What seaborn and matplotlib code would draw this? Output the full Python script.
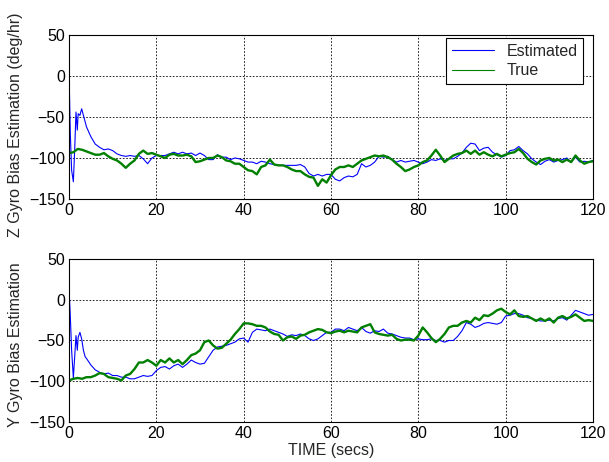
import matplotlib
matplotlib.use('Agg')
import matplotlib.pyplot as plt
import seaborn as sns
import pandas as pd

# start-up transient of the estimator (secs)
t_start = [0, 0.1, 0.3, 0.6, 1.0, 1.3, 1.6, 1.9, 2.1, 2.5, 2.9, 3.3, 3.7]
t_est = list(range(4, 121))
t_true = list(range(0, 121))

z_est_start = [21, -19, -70, -115, -129, -90, -44, -66, -46, -48, -40, -48, -56]
z_est = [-62, -74, -83, -87, -90, -89,
         -91, -95, -97, -98, -97, -98, -97, -101, -107, -100,
         -97, -97, -97, -95, -93, -95, -93, -95, -94, -97,
         -94, -97, -102, -102, -96, -99, -99, -102, -100, -101,
         -103, -105, -105, -107, -104, -105, -107, -108, -109, -109,
         -109, -109, -109, -108, -111, -119, -122, -120, -122, -120,
         -120, -126, -128, -124, -122, -123, -120, -107, -111, -109,
         -105, -98, -99, -98, -102, -105, -103, -105, -104, -103,
         -105, -107, -105, -102, -103, -101, -103, -101, -101, -98,
         -94, -87, -82, -83, -91, -88, -87, -93, -96, -99,
         -97, -91, -90, -86, -91, -95, -101, -105, -108, -104,
         -102, -105, -103, -102, -100, -105, -99, -105, -104, -105, -103]
z_true = [-94, -93, -89, -90, -92, -94, -96, -96, -94, -98,
          -101, -103, -107, -112, -107, -103, -95, -91, -95, -94,
          -96, -98, -100, -96, -95, -97, -97, -96, -98, -105,
          -104, -102, -100, -100, -97, -99, -103, -104, -107, -107,
          -111, -115, -116, -120, -111, -109, -102, -108, -109, -109,
          -111, -114, -116, -116, -120, -123, -124, -134, -126, -130,
          -121, -114, -111, -111, -109, -111, -107, -103, -101, -99,
          -97, -98, -97, -99, -102, -107, -111, -116, -114, -111,
          -109, -105, -103, -97, -90, -97, -105, -101, -97, -95,
          -94, -91, -95, -91, -96, -93, -96, -98, -95, -98,
          -96, -94, -93, -89, -94, -101, -105, -108, -103, -101,
          -100, -103, -102, -105, -102, -105, -97, -103, -107, -105, -104]

y_est_start = [32, 3, -20, -62, -96, -70, -44, -62, -46, -40, -48, -62, -70]
y_est = [-72, -80, -86, -89, -91, -90,
         -93, -93, -95, -95, -97, -97, -95, -93, -94, -93,
         -87, -83, -82, -85, -81, -79, -83, -79, -74, -77,
         -79, -78, -70, -62, -58, -57, -56, -54, -52, -48,
         -47, -52, -40, -36, -37, -38, -36, -38, -40, -42,
         -45, -43, -44, -42, -44, -48, -50, -48, -44, -40,
         -40, -36, -36, -38, -34, -36, -38, -34, -39, -41,
         -38, -39, -36, -41, -42, -44, -46, -47, -47, -49,
         -48, -49, -49, -48, -50, -50, -52, -50, -50, -45,
         -38, -28, -30, -34, -32, -29, -28, -29, -30, -28,
         -20, -19, -17, -17, -19, -22, -23, -25, -26, -26,
         -25, -26, -23, -22, -25, -19, -13, -15, -17, -19, -18]
y_true = [-99, -97, -96, -97, -95, -95, -93, -90, -91, -95,
          -96, -97, -99, -93, -91, -85, -77, -77, -74, -77,
          -81, -74, -77, -72, -77, -74, -79, -74, -68, -66,
          -62, -52, -50, -56, -60, -59, -54, -49, -42, -36,
          -29, -29, -30, -32, -32, -34, -39, -42, -43, -50,
          -46, -45, -48, -44, -43, -40, -38, -36, -37, -40,
          -41, -39, -38, -40, -38, -39, -40, -34, -32, -30,
          -40, -42, -43, -44, -43, -48, -50, -49, -49, -50,
          -44, -34, -40, -47, -52, -48, -42, -34, -32, -32,
          -28, -26, -28, -22, -25, -19, -20, -17, -13, -11,
          -15, -18, -13, -20, -21, -20, -23, -26, -23, -26,
          -23, -28, -22, -20, -23, -21, -18, -22, -26, -25, -26]

FS = 11.5

sns.set_style('white')
plt.rcParams['font.family'] = ['Liberation Sans', 'DejaVu Sans']
plt.rcParams['font.size'] = FS

fig = plt.figure(figsize=(6.09, 4.62), dpi=100)
ax1 = fig.add_axes([0.1133, 0.5693, 0.8604, 0.3550])
ax2 = fig.add_axes([0.1133, 0.0866, 0.8604, 0.3528])

panels = [
    (ax1, z_est_start, z_est, z_true, 'Z Gyro Bias Estimation (deg/hr)'),
    (ax2, y_est_start, y_est, y_true, 'Y Gyro Bias Estimation'),
]

for ax, est0, est, true, lab in panels:
    est_df = pd.DataFrame({'t': t_start + t_est, 'v': est0 + est})
    true_df = pd.DataFrame({'t': t_true, 'v': true})
    sns.lineplot(data=est_df, x='t', y='v', ax=ax, color='#0000FF', lw=0.8,
                 estimator=None, sort=False, label='Estimated')
    sns.lineplot(data=true_df, x='t', y='v', ax=ax, color='#008000', lw=1.7,
                 estimator=None, sort=False, label='True')
    ax.set_xlim(0, 120)
    ax.set_ylim(-150, 50)
    ax.set_xticks(range(0, 121, 20))
    ax.set_yticks(range(-150, 51, 50))
    ax.grid(True, color='black', linestyle=(0, (2, 2)), lw=0.6)
    ax.tick_params(direction='in', length=3, labelsize=FS, colors='black', pad=3)
    for s in ax.spines.values():
        s.set_color('black')
        s.set_linewidth(0.8)
    ax.set_ylabel(lab, fontsize=FS)
    ax.set_xlabel('')

ax1.yaxis.set_label_coords(-0.088, 0.45)
ax2.yaxis.set_label_coords(-0.088, 0.475)
ax2.set_xlabel('TIME (secs)', fontsize=FS, labelpad=1)

leg = ax1.legend(loc='upper right', bbox_to_anchor=(0.981, 0.982),
                 fancybox=False, edgecolor='black', framealpha=1, fontsize=FS,
                 handlelength=2.6, borderaxespad=0, borderpad=0.35,
                 labelspacing=0.3)
leg.get_frame().set_linewidth(0.8)
for ln in leg.get_lines():
    ln.set_linewidth(0.8)
ax2.get_legend().remove()

fig.savefig('out.png', dpi=100)
